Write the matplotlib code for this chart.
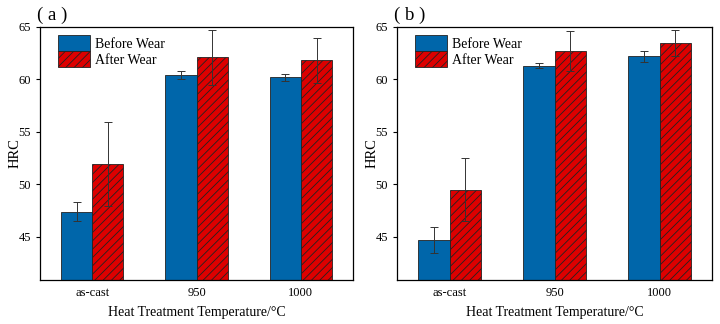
import numpy as np
import matplotlib
matplotlib.use('Agg')
import matplotlib.pyplot as plt

plt.rcParams['font.family'] = ['Liberation Serif', 'Noto Sans CJK SC']
plt.rcParams['hatch.linewidth'] = 0.6

categories = ['as-cast', '950', '1000']

# panel (a)
before_a = [47.4, 60.4, 60.2]
before_a_err = [0.9, 0.4, 0.35]
after_a = [51.9, 62.1, 61.8]
after_a_err = [4.0, 2.6, 2.1]

# panel (b)
before_b = [44.7, 61.3, 62.2]
before_b_err = [1.2, 0.25, 0.5]
after_b = [49.5, 62.7, 63.5]
after_b_err = [3.0, 1.9, 1.25]

blue = '#0066aa'
red = '#dd0000'
width = 0.3

fig = plt.figure(figsize=(7.2, 3.24), dpi=100)
ax1 = fig.add_axes([0.0556, 0.136, 0.4347, 0.781])
ax2 = fig.add_axes([0.5514, 0.136, 0.4375, 0.781])

panels = [(ax1, before_a, before_a_err, after_a, after_a_err, '( a )'),
          (ax2, before_b, before_b_err, after_b, after_b_err, '( b )')]

x = np.arange(len(categories))
for ax, bv, be, av, ae, lab in panels:
    ekw = dict(elinewidth=0.7, capthick=0.7, ecolor='#333333')
    ax.bar(x - width / 2, bv, width, yerr=be, capsize=3, color=blue,
           edgecolor='#222222', linewidth=0.6, error_kw=ekw, label='Before Wear')
    ax.bar(x + width / 2, av, width, yerr=ae, capsize=3, color=red,
           edgecolor='#222222', linewidth=0.6, hatch='////', error_kw=ekw,
           label='After Wear')
    ax.set_xlim(-0.5, 2.5)
    ax.set_ylim(40.9, 65)
    ax.set_yticks([45, 50, 55, 60, 65])
    ax.set_xticks(x)
    ax.set_xticklabels(categories)
    ax.tick_params(axis='x', length=0, labelsize=9, pad=5)
    ax.tick_params(axis='y', length=3, width=0.8, labelsize=9)
    for s in ax.spines.values():
        s.set_linewidth(0.9)
    ax.set_xlabel('Heat Treatment Temperature/°C', fontsize=10, labelpad=5)
    ax.set_ylabel('HRC', fontsize=10.5, labelpad=-2)
    ax.legend(loc='upper left', fontsize=10, frameon=False,
              handlelength=2.3, handleheight=1.4, handletextpad=0.4,
              labelspacing=0.0, borderaxespad=0.2, bbox_to_anchor=(0.03, 1.0))
    ax.text(-0.01, 1.01, lab, transform=ax.transAxes, fontsize=13.5,
            ha='left', va='bottom')

fig.savefig('out.png', dpi=100)
